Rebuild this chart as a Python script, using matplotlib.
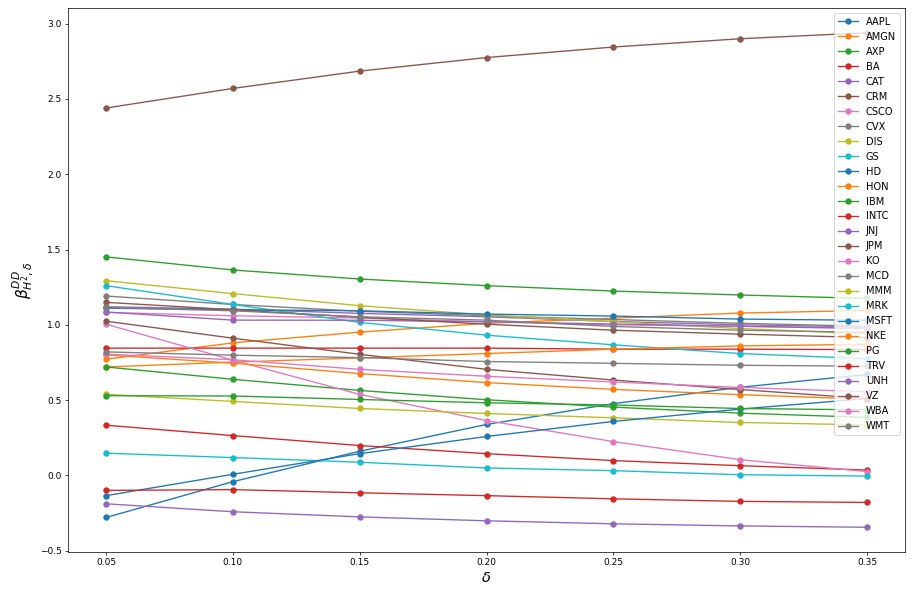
import matplotlib
matplotlib.use("Agg")
import matplotlib.pyplot as plt

deltas = [0.05, 0.10, 0.15, 0.20, 0.25, 0.30, 0.35]

tickers = ["AAPL", "AMGN", "AXP", "BA", "CAT", "CRM", "CSCO", "CVX", "DIS", "GS",
           "HD", "HON", "IBM", "INTC", "JNJ", "JPM", "KO", "MCD", "MMM", "MRK",
           "MSFT", "NKE", "PG", "TRV", "UNH", "VZ", "WBA", "WMT"]

AAPL = [-0.280, -0.042, 0.160, 0.338, 0.476, 0.585, 0.670]
AMGN = [0.771, 0.880, 0.951, 1.010, 1.044, 1.078, 1.095]
AXP = [1.451, 1.364, 1.304, 1.260, 1.224, 1.198, 1.175]
BA = [0.845, 0.845, 0.845, 0.845, 0.838, 0.838, 0.835]
CAT = [1.120, 1.104, 1.076, 1.053, 1.022, 1.000, 0.985]
CRM = [2.440, 2.570, 2.685, 2.775, 2.845, 2.900, 2.940]
CSCO = [1.082, 1.060, 1.045, 1.020, 1.000, 0.990, 0.980]
CVX = [1.191, 1.135, 1.090, 1.060, 1.035, 1.010, 0.990]
DIS = [1.293, 1.207, 1.127, 1.065, 1.020, 0.975, 0.940]
GS = [1.260, 1.135, 1.016, 0.931, 0.867, 0.809, 0.775]
HD = [1.110, 1.100, 1.093, 1.071, 1.058, 1.038, 1.030]
HON = [0.720, 0.752, 0.780, 0.809, 0.838, 0.860, 0.870]
IBM = [0.720, 0.638, 0.564, 0.502, 0.453, 0.413, 0.385]
INTC = [0.333, 0.264, 0.198, 0.144, 0.098, 0.064, 0.035]
JNJ = [1.085, 1.031, 1.030, 1.020, 1.005, 0.990, 0.975]
JPM = [1.149, 1.100, 1.050, 1.004, 0.964, 0.938, 0.915]
KO = [1.004, 0.765, 0.538, 0.364, 0.224, 0.104, 0.025]
MCD = [1.115, 1.093, 1.053, 1.031, 0.989, 0.964, 0.950]
MMM = [0.538, 0.491, 0.444, 0.411, 0.382, 0.351, 0.335]
MRK = [0.147, 0.118, 0.087, 0.049, 0.031, 0.004, -0.005]
MSFT = [-0.135, 0.007, 0.144, 0.258, 0.358, 0.440, 0.510]
NKE = [0.800, 0.745, 0.676, 0.616, 0.571, 0.536, 0.505]
PG = [0.529, 0.527, 0.504, 0.482, 0.467, 0.444, 0.435]
TRV = [-0.100, -0.095, -0.116, -0.135, -0.156, -0.173, -0.180]
UNH = [-0.189, -0.242, -0.276, -0.302, -0.322, -0.336, -0.345]
VZ = [1.024, 0.911, 0.804, 0.704, 0.633, 0.570, 0.510]
WBA = [0.805, 0.768, 0.704, 0.658, 0.620, 0.584, 0.555]
WMT = [0.820, 0.798, 0.782, 0.756, 0.744, 0.731, 0.725]

series = [AAPL, AMGN, AXP, BA, CAT, CRM, CSCO, CVX, DIS, GS, HD, HON, IBM, INTC,
          JNJ, JPM, KO, MCD, MMM, MRK, MSFT, NKE, PG, TRV, UNH, VZ, WBA, WMT]

DPI = 65
fig = plt.figure(figsize=(911 / DPI, 595 / DPI), dpi=DPI)
ax = fig.add_axes([68 / 911, 1 - 552 / 595, (905 - 68) / 911, (552 - 8) / 595])

for name, vals in zip(tickers, series):
    ax.plot(deltas, vals, marker="o", label=name)

ax.set_xlabel(r"$\delta$", fontsize=16)
ax.set_ylabel(r"$\beta^{DD}_{H^2,\delta}$", fontsize=17)
ax.set_xticks(deltas)
ax.set_xticklabels(["0.05", "0.10", "0.15", "0.20", "0.25", "0.30", "0.35"])
ax.set_yticks([-0.5, 0.0, 0.5, 1.0, 1.5, 2.0, 2.5, 3.0])
ax.legend(loc="upper right", fontsize=11)

fig.savefig("out.png", dpi=DPI)
